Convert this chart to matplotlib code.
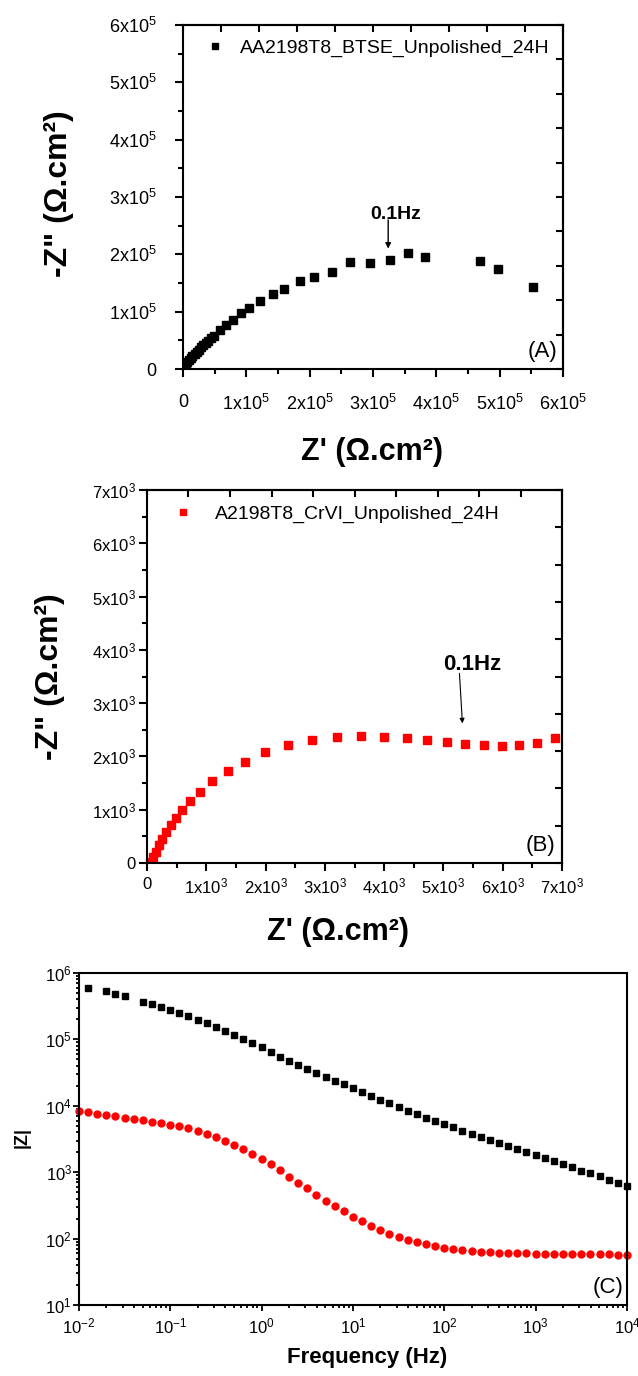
#!/usr/bin/env python3
"""Nyquist plots (BTSE and Cr(VI) coatings, 24 h) and the Bode modulus of both."""
import matplotlib
matplotlib.use("Agg")
import matplotlib.pyplot as plt
import matplotlib.ticker as ticker
import numpy as np

matplotlib.rcParams.update({
    "font.family": ["Liberation Sans", "DejaVu Sans"],
    "mathtext.fontset": "custom",
    "mathtext.rm": "Liberation Sans",
    "mathtext.it": "Liberation Sans:italic",
    "mathtext.bf": "Liberation Sans:bold",
    "mathtext.default": "regular",
    "axes.linewidth": 1.5,
})

# ── Nyquist, BTSE coated (x1e5 ohm.cm2) ──────────────────────────────────────
btse_zre = np.array([5.52, 4.98, 4.69, 3.82, 3.56, 3.27, 2.96, 2.64, 2.35, 2.07,
                     1.84, 1.60, 1.42, 1.22, 1.05, 0.91, 0.785, 0.68, 0.585, 0.49,
                     0.44, 0.40, 0.36, 0.32, 0.29, 0.26, 0.22, 0.19, 0.15, 0.12,
                     0.095, 0.07, 0.05, 0.03, 0.015, 0.005]) * 1e5
btse_zim = np.array([1.43, 1.74, 1.89, 1.95, 2.02, 1.90, 1.85, 1.86, 1.70, 1.60,
                     1.53, 1.40, 1.31, 1.18, 1.06, 0.97, 0.86, 0.77, 0.68, 0.58,
                     0.535, 0.49, 0.455, 0.42, 0.38, 0.34, 0.305, 0.27, 0.235, 0.20,
                     0.165, 0.13, 0.09, 0.05, 0.025, 0.01]) * 1e5

# ── Nyquist, Cr(VI) coated (x1e3 ohm.cm2) ────────────────────────────────────
crvi_zre = np.array([6.88, 6.58, 6.27, 5.98, 5.68, 5.37, 5.06, 4.73, 4.38, 4.00,
                     3.61, 3.20, 2.78, 2.37, 1.99, 1.65, 1.36, 1.10, 0.89, 0.73,
                     0.59, 0.49, 0.40, 0.32, 0.26, 0.20, 0.145, 0.10, 0.08]) * 1e3
crvi_zim = np.array([2.34, 2.25, 2.22, 2.20, 2.22, 2.24, 2.27, 2.30, 2.34, 2.37,
                     2.39, 2.37, 2.30, 2.21, 2.08, 1.90, 1.73, 1.53, 1.34, 1.17,
                     0.99, 0.84, 0.71, 0.59, 0.46, 0.34, 0.21, 0.11, 0.01]) * 1e3

# ── Bode modulus ─────────────────────────────────────────────────────────────
freq_hz = [0.01, 0.0126, 0.0158, 0.02, 0.0251, 0.0316, 0.0398, 0.0501, 0.0631, 0.0794,
           0.1, 0.126, 0.158, 0.2, 0.251, 0.316, 0.398, 0.501, 0.631, 0.794,
           1.0, 1.26, 1.58, 2.0, 2.51, 3.16, 3.98, 5.01, 6.31, 7.94,
           10, 12.6, 15.8, 20, 25.1, 31.6, 39.8, 50.1, 63.1, 79.4,
           100, 126, 158, 200, 251, 316, 398, 501, 631, 794,
           1000, 1260, 1580, 2000, 2510, 3160, 3980, 5010, 6310, 7940,
           10000]

btse_freq = [0.0126, 0.02, 0.0251, 0.0316, 0.0501, 0.0631, 0.0794,
             0.1, 0.126, 0.158, 0.2, 0.251, 0.316, 0.398, 0.501, 0.631, 0.794,
             1.0, 1.26, 1.58, 2.0, 2.51, 3.16, 3.98, 5.01, 6.31, 7.94,
             10, 12.6, 15.8, 20, 25.1, 31.6, 39.8, 50.1, 63.1, 79.4,
             100, 126, 158, 200, 251, 316, 398, 501, 631, 794,
             1000, 1260, 1580, 2000, 2510, 3160, 3980, 5010, 6310, 7940,
             10000]
btse_zmod = [594000, 530000, 483000, 446000, 366000, 338000, 308000,
             281000, 253000, 223000, 199000, 175000, 152000, 134000, 117000, 100500, 87500,
             76200, 64000, 55100, 47400, 41800, 36400, 31600, 27500, 24000, 21100,
             18400, 16000, 14100, 12400, 10900, 9640, 8490, 7570, 6650, 5930,
             5280, 4710, 4200, 3780, 3410, 3030, 2740, 2440, 2200, 1980,
             1790, 1610, 1450, 1310, 1180, 1060, 966, 863, 760, 693,
             624]

crvi_zmod = [8390, 7930, 7480, 7140, 6900, 6650, 6350, 6140, 5790, 5530,
             5220, 4880, 4550, 4200, 3780, 3410, 3000, 2610, 2220, 1910,
             1590, 1320, 1070, 861, 695, 571, 461, 374, 311, 257,
             215, 182, 157, 135, 119, 105, 94.6, 87.7, 81.8, 76.9,
             72.4, 69.2, 66.8, 65.3, 63.8, 62.7, 61.7, 61.0, 60.3, 59.8,
             59.4, 59.0, 58.7, 58.5, 58.2, 58.1, 57.9, 57.8, 57.7, 57.5,
             57.5]

freq_decades = [1e-2, 1e-1, 1e0, 1e1, 1e2, 1e3, 1e4]
zmod_decades = [1e1, 1e2, 1e3, 1e4, 1e5, 1e6]

RED = "#ff0000"


def sci_label(exp):
    """Tick text such as 3x10^5, plain 0 at the origin."""
    scale = 10.0 ** exp

    def fmt(v, _pos):
        if abs(v) < 1e-9:
            return "0"
        return f"{int(round(v / scale))}x10$^{{{exp}}}$"
    return ticker.FuncFormatter(fmt)


def nyquist_axes(ax, limit, exp, side_step, tick_fs):
    ax.set_xlim(0, limit)
    ax.set_ylim(0, limit)
    step = 10.0 ** exp
    for axis in (ax.xaxis, ax.yaxis):
        axis.set_major_locator(ticker.MultipleLocator(step))
        axis.set_minor_locator(ticker.MultipleLocator(step / 2))
        axis.set_major_formatter(sci_label(exp))
    ax.tick_params(which="both", direction="out", top=False, right=False,
                   width=1.5, labelsize=tick_fs)
    ax.tick_params(which="major", length=6)
    ax.tick_params(which="minor", length=3.5)

    # inward ticks on the opposite spines at a finer spacing
    top = ax.secondary_xaxis("top")
    right = ax.secondary_yaxis("right")
    for sec, axis in ((top, top.xaxis), (right, right.yaxis)):
        axis.set_major_locator(ticker.MultipleLocator(side_step))
        axis.set_minor_locator(ticker.NullLocator())
        sec.tick_params(direction="in", length=5, width=1.5,
                        labeltop=False, labelright=False)
        for sp in sec.spines.values():
            sp.set_linewidth(1.5)


fig = plt.figure(figsize=(6.38, 13.76), dpi=100)

# ── (A) BTSE Nyquist ────────────────────────────────────────────────────────
ax_a = fig.add_axes([0.2868, 0.7318, 0.5956, 0.2500])
ax_a.plot(btse_zre, btse_zim, "s", ms=5.2, color="k", ls="none",
          label="AA2198T8_BTSE_Unpolished_24H")
nyquist_axes(ax_a, 6e5, 5, 0.6e5, 13)
ax_a.tick_params(axis="x", pad=12)
ax_a.tick_params(axis="y", pad=13)
ax_a.legend(loc="center left", bbox_to_anchor=(0.0587, 0.933), frameon=False,
            borderpad=0, borderaxespad=0, handlelength=1.0, handletextpad=0.79,
            markerscale=0.85, numpoints=1, fontsize=14)
ax_a.annotate("", xy=(3.24e5, 2.10e5), xytext=(3.24e5, 2.60e5),
              arrowprops=dict(arrowstyle="-|>", color="k", lw=1.0,
                              mutation_scale=8, shrinkA=0, shrinkB=0))
ax_a.text(3.36e5, 2.69e5, "0.1Hz", fontsize=14, fontweight="bold",
          ha="center", va="center")
ax_a.text(0.985, 0.02, "(A)", transform=ax_a.transAxes, fontsize=16,
          ha="right", va="bottom")
ax_a.set_xlabel("Z' (Ω.cm²)", fontsize=22, fontweight="bold")
ax_a.set_ylabel('-Z" (Ω.cm²)', fontsize=23, fontweight="bold")
ax_a.xaxis.set_label_coords(0.497, -0.241)
ax_a.xaxis.label.set_va("center")
ax_a.yaxis.set_label_coords(-0.325, 0.509)
ax_a.yaxis.label.set_va("center")

# ── (B) Cr(VI) Nyquist ──────────────────────────────────────────────────────
ax_b = fig.add_axes([0.2304, 0.3728, 0.6505, 0.2711])
ax_b.plot(crvi_zre, crvi_zim, "s", ms=5.2, color=RED, ls="none",
          label="A2198T8_CrVI_Unpolished_24H")
nyquist_axes(ax_b, 7e3, 3, 0.7e3, 12)
ax_b.tick_params(axis="x", pad=4)
ax_b.tick_params(axis="y", pad=2)
ax_b.legend(loc="center left", bbox_to_anchor=(0.064, 0.935), frameon=False,
            borderpad=0, borderaxespad=0, handlelength=1.0, handletextpad=1.13,
            markerscale=0.75, numpoints=1, fontsize=14)
ax_b.annotate("", xy=(5.32e3, 2.62e3), xytext=(5.27e3, 3.56e3),
              arrowprops=dict(arrowstyle="-|>", color="k", lw=0.8,
                              mutation_scale=7, shrinkA=0, shrinkB=0))
ax_b.text(5.48e3, 3.72e3, "0.1Hz", fontsize=16, fontweight="bold",
          ha="center", va="center")
ax_b.text(0.985, 0.02, "(B)", transform=ax_b.transAxes, fontsize=16,
          ha="right", va="bottom")
ax_b.set_xlabel("Z' (Ω.cm²)", fontsize=22, fontweight="bold")
ax_b.set_ylabel('-Z" (Ω.cm²)', fontsize=23, fontweight="bold")
ax_b.xaxis.set_label_coords(0.46, -0.185)
ax_b.xaxis.label.set_va("center")
ax_b.yaxis.set_label_coords(-0.234, 0.499)
ax_b.yaxis.label.set_va("center")

# ── (C) Bode modulus ────────────────────────────────────────────────────────
ax_c = fig.add_axes([0.1238, 0.0516, 0.8589, 0.2413])
ax_c.loglog(btse_freq, btse_zmod, "s", ms=4.8, color="k", ls="none", clip_on=False)
ax_c.loglog(freq_hz, crvi_zmod, "o", ms=5.0, color=RED, ls="none", clip_on=False)
ax_c.set_xlim(1e-2, 1e4)
ax_c.set_ylim(1e1, 1e6)
ax_c.xaxis.set_major_locator(ticker.FixedLocator(freq_decades))
ax_c.yaxis.set_major_locator(ticker.FixedLocator(zmod_decades))
for axis in (ax_c.xaxis, ax_c.yaxis):
    axis.set_major_formatter(ticker.LogFormatterMathtext())
    axis.set_minor_locator(ticker.LogLocator(base=10, subs=np.arange(2, 10),
                                             numticks=20))
    axis.set_minor_formatter(ticker.NullFormatter())
ax_c.tick_params(which="both", direction="out", top=False, right=False,
                 width=1.3, labelsize=12)
ax_c.tick_params(which="major", length=4)
ax_c.tick_params(which="minor", length=2.2)
ax_c.tick_params(axis="x", pad=4)
ax_c.tick_params(axis="y", pad=1)
ax_c.text(0.993, 0.02, "(C)", transform=ax_c.transAxes, fontsize=16,
          ha="right", va="bottom")
ax_c.set_xlabel("Frequency (Hz)", fontsize=16, fontweight="bold")
ax_c.set_ylabel("|Z|", fontsize=13, fontweight="bold")
ax_c.xaxis.set_label_coords(0.526, -0.157)
ax_c.xaxis.label.set_va("center")
ax_c.yaxis.set_label_coords(-0.104, 0.503)
ax_c.yaxis.label.set_va("center")

fig.savefig("out.png", dpi=100)
plt.close(fig)
